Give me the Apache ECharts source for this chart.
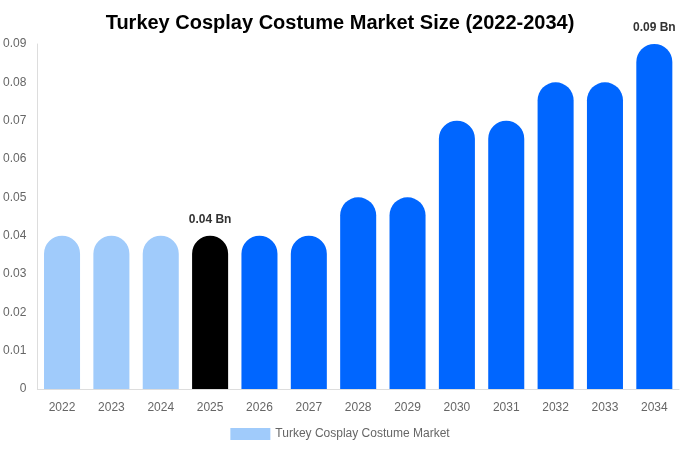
<!DOCTYPE html>
<html>
<head>
<meta charset="utf-8">
<script src="https://cdn.jsdelivr.net/npm/echarts@6/dist/echarts.min.js"></script>
<style>html,body{margin:0;padding:0;background:#fff}#c{width:680px;height:450px}</style>
</head>
<body>
<div id="c"></div>
<script>
const categories = ['2022','2023','2024','2025','2026','2027','2028','2029','2030','2031','2032','2033','2034'];
const values = [0.04,0.04,0.04,0.04,0.04,0.04,0.05,0.05,0.07,0.07,0.08,0.08,0.09];
const yTicks = [0,0.01,0.02,0.03,0.04,0.05,0.06,0.07,0.08,0.09];
const labeledYears = ['2025','2034'];
const seriesName = 'Turkey Cosplay Costume Market';

function colorFor(year){
  const y = +year;
  if (y < 2025) return '#a0cbfb';
  if (y === 2025) return '#000000';
  return '#0066ff';
}

const chart = echarts.init(document.getElementById('c'));
chart.setOption({
  animation:false,
  textStyle:{fontFamily:'Liberation Sans, Arial, sans-serif'},
  title:{text:'Turkey Cosplay Costume Market Size (2022-2034)',left:'center',top:8,
    textStyle:{fontSize:20,fontWeight:'bold',color:'#000',fontFamily:'Liberation Sans, Arial, sans-serif'}},
  legend:{bottom:5,left:'center',icon:'rect',itemWidth:40,itemHeight:12,
    textStyle:{color:'#666',fontSize:12},data:[{name:seriesName,itemStyle:{color:'#a0cbfb'}}]},
  grid:{left:37,right:1,top:44,bottom:61,containLabel:false},
  xAxis:{type:'category',data:categories,
    axisLine:{lineStyle:{color:'#ddd'}},axisTick:{show:false},
    axisLabel:{color:'#666',fontSize:12,margin:13}},
  yAxis:{type:'value',min:0,max:yTicks[yTicks.length-1],interval:0.01,
    axisLine:{show:true,lineStyle:{color:'#ddd'}},splitLine:{show:false},
    axisLabel:{color:'#666',fontSize:12,margin:11,formatter:v=>v===0?'0':v.toFixed(2)}},
  series:[{name:seriesName,type:'bar',barWidth:'73%',
    data:values.map((v,i)=>({value:v,itemStyle:{color:colorFor(categories[i])},
      label:{show:labeledYears.includes(categories[i]),position:'top',distance:10,
        formatter:p=>p.value.toFixed(2)+' Bn',fontWeight:'bold',fontSize:12,color:'#333'}})),
    itemStyle:{borderRadius:[18,18,0,0]}
  }]
});
</script>
</body>
</html>
